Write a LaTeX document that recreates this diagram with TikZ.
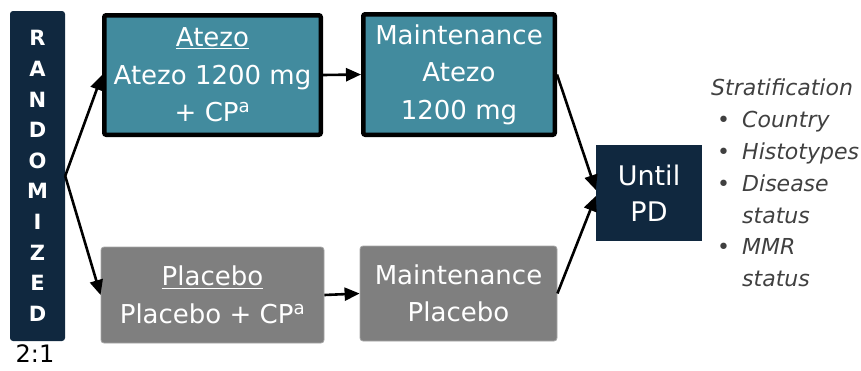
\documentclass[tikz,border=0pt]{standalone}
\usepackage{fontspec}
\setmainfont{DejaVu Sans}
\usetikzlibrary{arrows.meta}
\definecolor{navy}{HTML}{10283F}
\definecolor{tealbox}{HTML}{428B9E}
\definecolor{graybox}{HTML}{7F7F7F}
\definecolor{grayedge}{HTML}{A6A6A6}
\definecolor{strattext}{HTML}{404040}
\begin{document}
\begin{tikzpicture}[x=1pt,y=-1pt,
  boxtext/.style={text=white, font=\fontsize{26}{37.5}\selectfont, align=center},
  armA/.style={draw=black, line width=4.5pt, fill=tealbox, rounded corners=2pt, inner sep=0pt, boxtext},
  armP/.style={draw=grayedge, line width=0.8pt, fill=graybox, rounded corners=3pt, inner sep=0pt, boxtext},
  navybox/.style={fill=navy, inner sep=0pt, text=white},
  arr/.style={line width=2.6pt, -{Triangle[length=15pt,width=13pt]}}
]
\useasboundingbox (0,0) rectangle (861,370);

\node[navybox, rounded corners=3pt, minimum width=55pt, minimum height=330pt] (rand) at (37.5,176) {};
\node[text=white, font=\bfseries\fontsize{21}{30.6}\selectfont, align=center, inner sep=0pt] (randtext) at (37.5,176)
  {R\\A\\N\\D\\O\\M\\I\\Z\\E\\D};
\node[font=\fontsize{24}{28}\selectfont, inner sep=0pt] (ratio) at (35,354) {2:1};

\node[armA, minimum width=216.5pt, minimum height=119.5pt] (atezo) at (212.5,75)
  {\underline{Atezo}\\Atezo 1200 mg\\+ CP\textsuperscript{a}};
\node[armA, minimum width=191.5pt, minimum height=120.5pt] (maintA) at (459,74.5)
  {Maintenance\\Atezo\\1200 mg};
\node[armP, minimum width=223pt, minimum height=96pt] (placebo) at (212.5,295)
  {\underline{Placebo}\\Placebo + CP\textsuperscript{a}};
\node[armP, minimum width=197pt, minimum height=95pt] (maintP) at (458.5,293.5)
  {Maintenance\\Placebo};
\node[navybox, minimum width=106pt, minimum height=96pt, font=\fontsize{27}{36}\selectfont, align=center] (until) at (649,193)
  {Until\\PD};

\coordinate (u1) at ([yshift=3pt]until.west);
\coordinate (u2) at ([yshift=-3pt]until.west);

\draw[arr] (rand.east) -- (atezo.west);
\draw[arr] (rand.east) -- (placebo.west);
\draw[arr] (atezo.east) -- (maintA.west);
\draw[arr] (placebo.east) -- (maintP.west);
\draw[arr] (maintA.east) -- (u1);
\draw[arr] (maintP.east) -- (u2);

\node[anchor=north west, inner sep=0pt, text=strattext, align=left,
      font=\itshape\fontsize{22}{31.8}\selectfont] (strat) at (711,79)
  {Stratification\\
   \hspace*{6pt}\makebox[25pt][l]{\upshape\textbullet}Country\\
   \hspace*{6pt}\makebox[25pt][l]{\upshape\textbullet}Histotypes\\
   \hspace*{6pt}\makebox[25pt][l]{\upshape\textbullet}Disease\\
   \hspace*{31pt}status\\
   \hspace*{6pt}\makebox[25pt][l]{\upshape\textbullet}MMR\\
   \hspace*{31pt}status};
\end{tikzpicture}
\end{document}
